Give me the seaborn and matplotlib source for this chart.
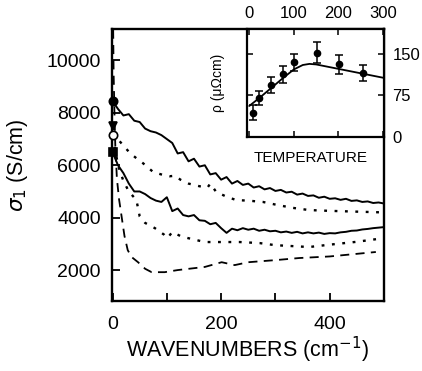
import numpy as np
import pandas as pd
import matplotlib
matplotlib.use("Agg")
import matplotlib.pyplot as plt
import seaborn as sns

# ---------------- data ----------------
wn = [0, 10, 20, 30, 40, 50, 60, 70, 80, 90, 100, 110, 120, 130, 140, 150, 160, 170, 180, 190,
      200, 210, 220, 230, 240, 250, 260, 270, 280, 290, 300, 310, 320, 330, 340, 350, 360, 370,
      380, 390, 400, 410, 420, 430, 440, 450, 460, 470, 480, 490, 500]

sigma_solid_top = [8450, 8150, 7900, 7950, 7700, 7650, 7400, 7300, 7250, 7150, 7000, 6850, 6450,
                   6500, 6150, 6250, 5950, 6000, 5650, 5700, 5450, 5550, 5300, 5400, 5250, 5300,
                   5150, 5200, 5080, 5130, 5020, 5060, 4960, 4990, 4880, 4920, 4830, 4850, 4760,
                   4800, 4720, 4740, 4680, 4720, 4640, 4660, 4600, 4620, 4560, 4580, 4540]

sigma_solid_low = [6500, 6000, 5700, 5300, 5000, 5000, 4900, 4750, 4650, 4600, 4780, 4250, 4350,
                   4100, 4050, 4100, 3900, 3880, 3750, 3800, 3600, 3420, 3580, 3520, 3600, 3540,
                   3580, 3500, 3540, 3480, 3500, 3440, 3470, 3420, 3460, 3400, 3440, 3400, 3430,
                   3380, 3410, 3400, 3440, 3460, 3500, 3510, 3550, 3570, 3600, 3620, 3640]

wn_dot_top = [0, 8, 20, 32, 45, 56, 66, 75, 93, 105, 115, 125, 140, 160, 175, 180, 191, 210,
              228, 250, 277, 300, 330, 362, 400, 450, 500]
sigma_dot_top = [7200, 7040, 6750, 6470, 6250, 6080, 5900, 5740, 5630, 5580, 5600, 5450, 5300,
                 5200, 5150, 5300, 4980, 4800, 4670, 4650, 4600, 4500, 4380, 4290, 4260, 4230, 4200]

wn_dot_low = [0, 5, 10, 20, 30, 44, 50, 60, 78, 95, 101, 110, 125, 139, 170, 206, 234, 271,
              300, 362, 400, 450, 500]
sigma_dot_low = [7500, 6600, 6000, 5400, 5000, 4670, 4050, 3800, 3600, 3350, 3220, 3450, 3300,
                 3220, 3070, 3070, 3070, 3030, 2950, 2880, 2970, 3080, 3220]

wn_dash = [0.5, 2, 3.5, 5, 8, 12, 17, 22, 28, 35, 47, 60, 72, 96, 120, 145, 170, 201, 225,
           250, 300, 344, 400, 450, 485]
sigma_dash = [12500, 9500, 8000, 6800, 5500, 4700, 4000, 3300, 2760, 2500, 2300, 2050, 1920,
              1920, 2000, 2060, 2120, 2300, 2190, 2300, 2380, 2460, 2520, 2620, 2690]

# markers at zero frequency
marker_vals = [8450, 7500, 7150, 6500]
marker_kind = ["o", "v", "o", "s"]
marker_fill = ["k", "k", "white", "k"]

# inset: resistivity vs temperature
temp_pts = [8, 23, 49, 75, 100, 152, 202, 254]
rho_pts = [44, 70, 94, 113, 135, 152, 131, 116]
rho_err = [14, 13, 14, 16, 15, 19, 17, 14]
temp_fit = [0, 25, 50, 75, 100, 120, 135, 150, 175, 200, 250, 300]
rho_fit = [56, 72, 89, 106, 122, 130, 132, 131, 127, 123, 115, 107]

# ---------------- style ----------------
sns.set_style("ticks")
plt.rcParams["font.family"] = ["Liberation Sans", "DejaVu Sans"]
plt.rcParams["mathtext.fontset"] = "dejavusans"
for k in ["text.color", "axes.labelcolor", "xtick.color", "ytick.color", "axes.edgecolor"]:
    plt.rcParams[k] = "black"

fig = plt.figure(figsize=(4.22, 3.71), dpi=100)
ax = fig.add_axes([112 / 422, 1 - 301 / 371, (384 - 112) / 422, (301 - 29) / 371])

lw = 1.4
sns.lineplot(x=wn, y=sigma_solid_top, ax=ax, color="k", lw=lw, estimator=None, sort=False)
sns.lineplot(x=wn, y=sigma_solid_low, ax=ax, color="k", lw=lw, estimator=None, sort=False)
sns.lineplot(x=wn_dot_top, y=sigma_dot_top, ax=ax, color="k", lw=1.7, estimator=None,
             sort=False, linestyle=(0, (1.2, 3.2)))
sns.lineplot(x=wn_dot_low, y=sigma_dot_low, ax=ax, color="k", lw=1.7, estimator=None,
             sort=False, linestyle=(0, (1.2, 3.2)))
sns.lineplot(x=wn_dash, y=sigma_dash, ax=ax, color="k", lw=1.3, estimator=None,
             sort=False, linestyle=(0, (5, 3.5)))

for v, m, fc in zip(marker_vals, marker_kind, marker_fill):
    ax.plot([0], [v], marker=m, ms=6, mfc=fc, mec="k", mew=1.2, clip_on=False, zorder=5)

ax.set_xlim(-1, 500)
ax.set_ylim(820, 11200)
ax.set_xticks([0, 200, 400])
ax.set_xticks([100, 300], minor=True)
ax.set_yticks([2000, 4000, 6000, 8000, 10000])
ax.tick_params(axis="both", which="both", direction="in", length=6, width=1.3,
               labelsize=14, top=False, right=False, pad=8)
ax.tick_params(axis="x", pad=11)
for s in ax.spines.values():
    s.set_linewidth(1.7)
    s.set_color("k")
ax.set_xlabel("WAVENUMBERS (cm$^{-1}$)", fontsize=15.5, labelpad=1)
ax.set_ylabel(r"$\sigma_1$ (S/cm)", fontsize=15.5, labelpad=12)

# ---------------- inset ----------------
ax_in = fig.add_axes([247 / 422, 1 - 137 / 371, (384 - 247) / 422, (137 - 29) / 371])
ax_in.set_facecolor("white")
sns.lineplot(x=temp_fit, y=rho_fit, ax=ax_in, color="k", lw=1.3, estimator=None, sort=False)
ax_in.errorbar(temp_pts, rho_pts, yerr=rho_err, fmt="o", color="k", ms=4.5,
               capsize=3, elinewidth=1.1, capthick=1.1)
ax_in.set_xlim(-5, 302)
ax_in.set_ylim(0, 195)
ax_in.set_xticks([0, 100, 200, 300])
ax_in.set_yticks([0, 75, 150])
ax_in.tick_params(axis="both", direction="in", length=4, width=1.1, labelsize=12,
                  top=True, bottom=True, labeltop=True, labelbottom=False,
                  left=True, right=True, labelleft=False, labelright=True, pad=6)
for s in ax_in.spines.values():
    s.set_linewidth(1.6)
    s.set_color("k")

fig.text(311 / 422, 1 - 158 / 371, "TEMPERATURE", ha="center", va="center", fontsize=11)
fig.text(218 / 422, 1 - 83 / 371, "ρ (μΩcm)", ha="center", va="center", fontsize=10,
         rotation=90)

fig.savefig("out.png", dpi=100)
